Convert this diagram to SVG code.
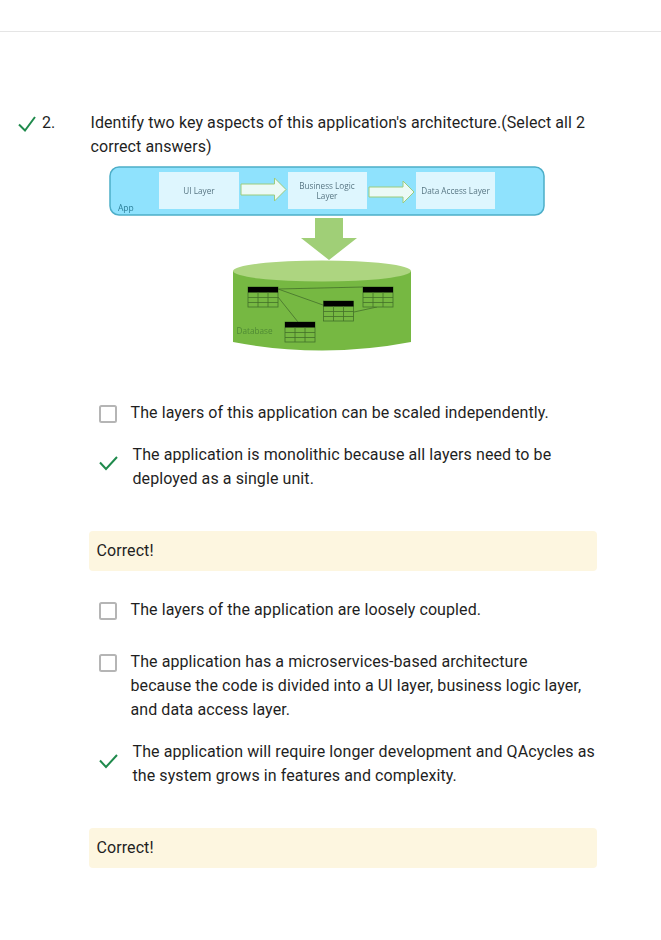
<svg xmlns="http://www.w3.org/2000/svg" width="661" height="940" viewBox="0 0 661 940">
<style>
.t{font-family:Roboto,"Liberation Sans",sans-serif;font-size:16px;fill:#1f1f1f;letter-spacing:.085px}
.d{font-family:"Open Sans","Liberation Sans",sans-serif;font-size:8.200px;fill:#587683;text-anchor:middle}
.chk{fill:none;stroke:#1f8a4c;stroke-width:2}
.box{fill:#fff;stroke:#b5b5b5;stroke-width:2}
.fb{fill:#fdf6e0}
.layer{fill:#def6fe}
.ar{fill:#ecfaf6;stroke:#9ccc7c;stroke-width:1}
.tb{fill:#76b843;stroke:#44702a;stroke-width:.8}
.hd{fill:#000}
.ln{stroke:#44702a;stroke-width:.8;fill:none}
.soft{filter:url(#soft)}
</style>
<defs>
<filter id="soft" x="-5%" y="-5%" width="110%" height="110%"><feGaussianBlur stdDeviation=".3"/></filter>
<g id="table">
<rect class="tb" x="0" y="0" width="30" height="20"/>
<rect class="hd" x="0" y="0" width="30" height="5.500"/>
<path class="ln" d="M0 10.500H30M0 15.500H30M10 5V20M20 5V20"/>
</g>
</defs>
<rect width="661" height="940" fill="#fff"/>
<line x1="0" y1="31.500" x2="661" y2="31.500" stroke="#e5e5e5"/>
<g id="question">
<path class="chk" d="M19 124.500L25 130.500L35 117"/>
<text class="t" x="42" y="128">2.</text>
<text class="t" x="90.500" y="128">Identify two key aspects of this application's architecture.(Select all 2</text>
<text class="t" x="90.500" y="152">correct answers)</text>
</g>
<g class="soft">
<g id="app">
<rect x="110" y="167" width="434" height="48" rx="9" fill="#8fe2fd" stroke="#4eaec8" stroke-width="1.500"/>
<text x="118" y="211" font-family="Open Sans, sans-serif" font-size="8.500" fill="#2b7f99">App</text>
</g>
<g id="ui-layer">
<rect class="layer" x="159" y="172" width="80" height="37"/>
<text class="d" x="199" y="194">UI Layer</text>
</g>
<g id="business-logic-layer">
<rect class="layer" x="288" y="172" width="79" height="37"/>
<text class="d" x="327" y="189">Business Logic</text>
<text class="d" x="327" y="199">Layer</text>
</g>
<g id="data-access-layer">
<rect class="layer" x="416" y="172" width="79" height="37"/>
<text class="d" x="455.500" y="194">Data Access Layer</text>
</g>
<g id="database">
<path d="M233 271V342Q322 359 411 342V271Z" fill="#76b843"/>
<ellipse cx="322" cy="271" rx="89" ry="10.500" fill="#add580"/>
<text x="236.500" y="334" font-family="Open Sans, sans-serif" font-size="8.200" fill="#4f8a33">Database</text>
</g>
<g id="connectors">
<path class="ar" d="M241 184H274.500V178L286 189.500L274.500 201V195H241Z"/>
<path class="ar" d="M369 187H403V181L414 192L403 203V197H369Z"/>
<path d="M315 218H343V238H357L329 260L301 238H315Z" fill="#a0cf77"/>
<path class="ln" d="M278 289L363 287M278 289L323 305M278 297L298 322M354 312L377 307"/>
</g>
<g id="tables">
<use href="#table" x="248" y="287"/>
<use href="#table" x="363" y="287"/>
<use href="#table" x="323.500" y="301"/>
<use href="#table" x="285" y="322"/>
</g>
</g>
<g id="option-1">
<rect class="box" x="100" y="406" width="16" height="16" rx="1.500"/>
<text class="t" x="130.500" y="418">The layers of this application can be scaled independently.</text>
</g>
<g id="option-2">
<path class="chk" d="M100 462.500L106 469L117 457"/>
<text class="t" x="132.500" y="460">The application is monolithic because all layers need to be</text>
<text class="t" x="132.500" y="484">deployed as a single unit.</text>
</g>
<g id="feedback-1">
<rect class="fb" x="89" y="531" width="508" height="40" rx="4"/>
<text class="t" x="96.500" y="556">Correct!</text>
</g>
<g id="option-3">
<rect class="box" x="100" y="603" width="16" height="16" rx="1.500"/>
<text class="t" x="130.500" y="615">The layers of the application are loosely coupled.</text>
</g>
<g id="option-4">
<rect class="box" x="100" y="655" width="16" height="16" rx="1.500"/>
<text class="t" x="130.500" y="667">The application has a microservices-based architecture</text>
<text class="t" x="130.500" y="691">because the code is divided into a UI layer, business logic layer,</text>
<text class="t" x="130.500" y="715">and data access layer.</text>
</g>
<g id="option-5">
<path class="chk" d="M100 760.500L106 767L117 755"/>
<text class="t" x="132.500" y="757">The application will require longer development and QAcycles as</text>
<text class="t" x="132.500" y="781">the system grows in features and complexity.</text>
</g>
<g id="feedback-2">
<rect class="fb" x="89" y="828" width="508" height="40" rx="4"/>
<text class="t" x="96.500" y="853">Correct!</text>
</g>
</svg>
